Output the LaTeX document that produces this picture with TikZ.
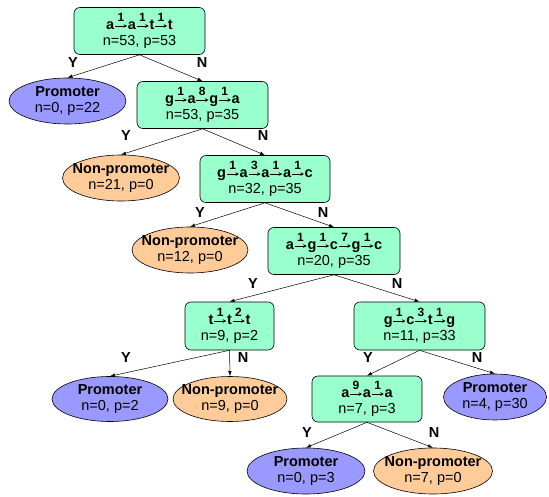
\documentclass[tikz,border=0pt]{standalone}
\usepackage{fontspec}
\setmainfont{Liberation Sans}
\usetikzlibrary{shapes.geometric,arrows.meta}
\definecolor{rectfill}{HTML}{99FFCC}
\definecolor{promfill}{HTML}{9999FF}
\definecolor{npfill}{HTML}{FFCC99}
\newcommand\sar[1]{\mbox{\hspace{0.5pt}\tikz[baseline=0pt,x=1pt,y=1pt]{\draw[line width=0.6pt,-{Stealth[length=3.5pt,width=3.6pt]}] (0,3.4)--(12,3.4);}\hspace{0.5pt}\llap{\makebox[13pt][c]{\raisebox{7.5pt}{\fontsize{12}{12}\selectfont\bfseries #1}\hspace{1pt}}}}}
\begin{document}
\begin{tikzpicture}[x=1pt,y=-1pt,
  test/.style={draw, line width=0.6pt, rounded corners=6pt, fill=rectfill, align=center,
    inner sep=0pt, minimum height=47pt, minimum width=131pt,
    font=\fontsize{14.5}{16}\selectfont},
  leaf/.style={draw, line width=0.6pt, ellipse, minimum width=117pt, minimum height=46pt, inner sep=0pt},
  prom/.style={leaf, fill=promfill},
  nonp/.style={leaf, fill=npfill},
  lab/.style={align=center, font=\fontsize{14.5}{16.5}\selectfont, inner sep=0pt},
  yn/.style={font=\fontsize{14.5}{15}\selectfont\bfseries, inner sep=0pt},
  edge/.style={line width=0.5pt, -{Latex[length=5pt,width=3.5pt]}}
]
\useasboundingbox (0,0) rectangle (549,497);

\node[test] (r1) at (139.5,31) {\textbf{a\sar{1}a\sar{1}t\sar{1}t}\\n=53, p=53};
\node[prom, label={[lab]center:{\textbf{Promoter}\\n=0, p=22}}] (p1) at (67.5,101) {};
\node[test] (r2) at (202.5,105) {\textbf{g\sar{1}a\sar{8}g\sar{1}a}\\n=53, p=35};
\node[nonp, label={[lab]center:{\textbf{Non-promoter}\\n=21, p=0}}] (n1) at (121,178) {};
\node[test, minimum width=130pt] (r3) at (265,179) {\textbf{g\sar{1}a\sar{3}a\sar{1}a\sar{1}c}\\n=32, p=35};
\node[nonp, minimum width=116pt, label={[lab]center:{\textbf{Non-promoter}\\n=12, p=0}}] (n2) at (190,250) {};
\node[test, minimum width=132pt] (r4) at (334,251) {\textbf{a\sar{1}g\sar{1}c\sar{7}g\sar{1}c}\\n=20, p=35};
\node[test, minimum width=89pt, minimum height=48pt] (r5) at (229.5,326) {\textbf{t\sar{1}t\sar{2}t}\\n=9, p=2};
\node[test, minimum height=48pt] (r6) at (419.5,326) {\textbf{g\sar{1}c\sar{3}t\sar{1}g}\\n=11, p=33};
\node[prom, minimum width=116pt, minimum height=45pt, label={[lab]center:{\textbf{Promoter}\\n=0, p=2}}] (p3) at (110,399) {};
\node[nonp, minimum width=114pt, minimum height=45pt, label={[lab]center:{\textbf{Non-promoter}\\n=9, p=0}}] (n3) at (230,399) {};
\node[test, minimum width=110pt, minimum height=46pt] (r7) at (367,399) {\textbf{a\sar{9}a\sar{1}a}\\n=7, p=3};
\node[prom, minimum width=103pt, label={[lab]center:{\textbf{Promoter}\\n=4, p=30}}] (p4) at (495,397) {};
\node[prom, minimum width=118pt, label={[lab]center:{\textbf{Promoter}\\n=0, p=3}}] (p5) at (306,471) {};
\node[nonp, minimum width=119pt, label={[lab]center:{\textbf{Non-promoter}\\n=7, p=0}}] (n5) at (433,471) {};

\draw[edge] (r1.south) -- (p1.north);
\draw[edge] (r1.south) -- (r2.north);
\draw[edge] (r2.south) -- (n1.north);
\draw[edge] (r2.south) -- (r3.north);
\draw[edge] (r3.south) -- (n2.north);
\draw[edge] (r3.south) -- (r4.north);
\draw[edge] (r4.south) -- (r5.north);
\draw[edge] (r4.south) -- (r6.north);
\draw[edge] (r5.south) -- (p3.north);
\draw[edge] (r5.south) -- (n3.north);
\draw[edge] (r6.south) -- (r7.north);
\draw[edge] (r6.south) -- (p4.north);
\draw[edge] (r7.south) -- (p5.north);
\draw[edge] (r7.south) -- (n5.north);

\node[yn] (y1) at (73,63) {Y};
\node[yn] (m1) at (202,63) {N};
\node[yn] (y2) at (126,136) {Y};
\node[yn] (m2) at (263,136) {N};
\node[yn] (y3) at (200,213) {Y};
\node[yn] (m3) at (323,213) {N};
\node[yn] (y4) at (253,284) {Y};
\node[yn] (m4) at (397,284) {N};
\node[yn] (y5) at (126,358) {Y};
\node[yn] (m5) at (243,358) {N};
\node[yn] (y6) at (368,358) {Y};
\node[yn] (m6) at (477,358) {N};
\node[yn] (y7) at (307,433) {Y};
\node[yn] (m7) at (434,433) {N};
\end{tikzpicture}
\end{document}
